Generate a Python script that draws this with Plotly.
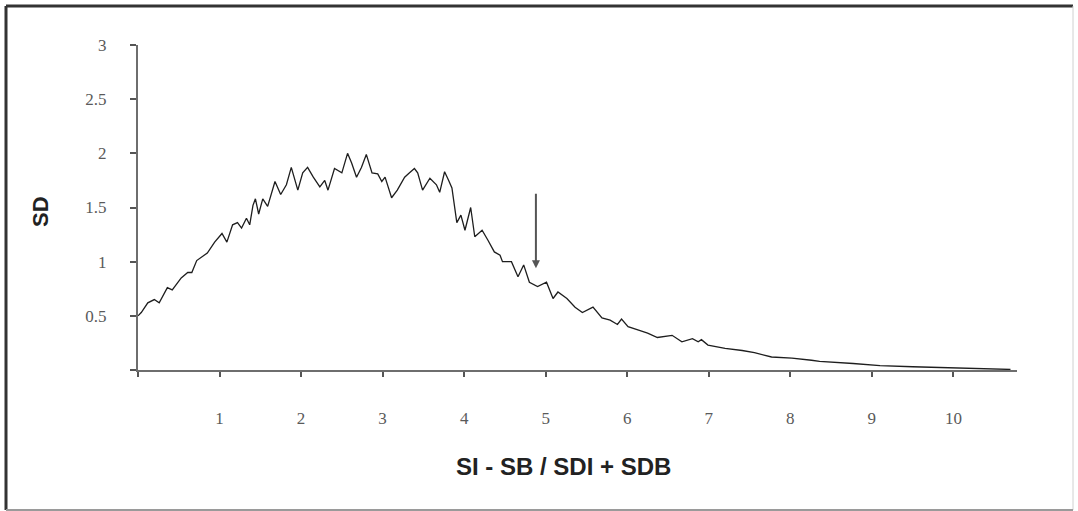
import plotly.graph_objects as go

# Data
sd_x = [0.00, 0.04, 0.12, 0.20, 0.26, 0.36, 0.42, 0.53, 0.61, 0.66, 0.72, 0.79, 0.85, 0.94,
        1.03, 1.09, 1.16, 1.22, 1.27, 1.33, 1.37, 1.41, 1.44, 1.48, 1.53, 1.59, 1.68, 1.75,
        1.82, 1.88, 1.96, 2.02, 2.08, 2.15, 2.23, 2.29, 2.33, 2.41, 2.50, 2.57, 2.62, 2.68,
        2.74, 2.80, 2.87, 2.94, 2.99, 3.03, 3.11, 3.18, 3.27, 3.33, 3.39, 3.43, 3.49, 3.58,
        3.66, 3.70, 3.76, 3.81, 3.85, 3.91, 3.96, 4.01, 4.08, 4.13, 4.22, 4.29, 4.37, 4.44,
        4.47, 4.52, 4.58, 4.66, 4.73, 4.80, 4.90, 5.01, 5.09, 5.15, 5.26, 5.36, 5.45, 5.58,
        5.69, 5.79, 5.88, 5.93, 6.01, 6.13, 6.25, 6.37, 6.55, 6.67, 6.80, 6.87, 6.91, 6.99,
        7.20, 7.41, 7.56, 7.77, 8.02, 8.26, 8.36, 8.77, 9.10, 9.50, 9.99, 10.30, 10.70]
sd_y = [0.50, 0.53, 0.62, 0.65, 0.62, 0.76, 0.74, 0.85, 0.90, 0.90, 1.01, 1.05, 1.08, 1.18,
        1.26, 1.18, 1.34, 1.36, 1.31, 1.40, 1.34, 1.52, 1.58, 1.44, 1.58, 1.51, 1.74, 1.62,
        1.71, 1.87, 1.66, 1.82, 1.87, 1.78, 1.69, 1.75, 1.66, 1.86, 1.82, 2.00, 1.91, 1.78,
        1.87, 1.99, 1.82, 1.81, 1.74, 1.78, 1.59, 1.66, 1.78, 1.82, 1.86, 1.82, 1.66, 1.77,
        1.71, 1.64, 1.83, 1.75, 1.68, 1.36, 1.43, 1.29, 1.50, 1.23, 1.29, 1.20, 1.09, 1.06,
        1.00, 1.00, 1.00, 0.86, 0.97, 0.81, 0.77, 0.81, 0.66, 0.72, 0.66, 0.58, 0.53, 0.58,
        0.48, 0.46, 0.42, 0.47, 0.40, 0.37, 0.34, 0.30, 0.32, 0.26, 0.29, 0.26, 0.28, 0.23,
        0.20, 0.18, 0.16, 0.12, 0.11, 0.09, 0.08, 0.06, 0.04, 0.03, 0.02, 0.01, 0.005]

x_ticks = [0, 1, 2, 3, 4, 5, 6, 7, 8, 9, 10]
x_tick_text = ["", "1", "2", "3", "4", "5", "6", "7", "8", "9", "10"]
y_ticks = [0, 0.5, 1, 1.5, 2, 2.5, 3]
y_tick_text = ["", "0.5", "1", "1.5", "2", "2.5", "3"]

arrow_x = 4.88
arrow_tail_y = 1.64
arrow_tip_y = 0.94

fig = go.Figure()
fig.add_trace(go.Scatter(x=sd_x, y=sd_y, mode="lines",
                         line=dict(color="#1e1e1e", width=1.3),
                         showlegend=False, hoverinfo="skip"))

tick_font = dict(family="Liberation Serif", size=17, color="#5a5a5a")
fig.update_layout(
    width=1078, height=511,
    margin=dict(l=138, r=61, t=45, b=141),
    paper_bgcolor="white", plot_bgcolor="white",
    xaxis=dict(range=[0, 10.78], tickmode="array", tickvals=x_ticks, ticktext=x_tick_text,
               showgrid=False, zeroline=False, showline=True, linecolor="#6e6e6e",
               linewidth=2, ticks="outside", ticklen=5, tickwidth=2, tickcolor="#555555",
               tickfont=tick_font, ticklabelstandoff=27),
    yaxis=dict(range=[0, 3], tickmode="array", tickvals=y_ticks, ticktext=y_tick_text,
               showgrid=False, zeroline=False, showline=True, linecolor="#6e6e6e",
               linewidth=2, ticks="outside", ticklen=6, tickwidth=2, tickcolor="#555555",
               tickfont=tick_font, ticklabelstandoff=20),
)

# Axis titles
fig.add_annotation(text="<b>SI - SB / SDI + SDB</b>", xref="paper", yref="paper",
                   x=(563 - 138) / 879, y=(370 - 466) / 325, showarrow=False,
                   font=dict(family="Liberation Sans", size=24, color="#222222"),
                   xanchor="center", yanchor="middle")
fig.add_annotation(text="<b>SD</b>", xref="paper", yref="paper",
                   x=(40 - 138) / 879, y=(370 - 212) / 325, showarrow=False, textangle=-90,
                   font=dict(family="Liberation Sans", size=22, color="#222222"),
                   xanchor="center", yanchor="middle")

# Arrow
fig.add_annotation(x=arrow_x, y=arrow_tip_y, ax=arrow_x, ay=arrow_tail_y,
                   xref="x", yref="y", axref="x", ayref="y", text="",
                   showarrow=True, arrowhead=2, arrowsize=0.8, arrowwidth=2,
                   arrowcolor="#555555")

# Frame around the picture
fig.add_shape(type="line", xref="paper", yref="paper",
              x0=(6 - 138) / 879, x1=(6 - 138) / 879, y0=(370 - 6) / 325, y1=(370 - 510) / 325,
              line=dict(color="#333333", width=3))
fig.add_shape(type="line", xref="paper", yref="paper",
              x0=(6 - 138) / 879, x1=(1073 - 138) / 879, y0=(370 - 6) / 325, y1=(370 - 6) / 325,
              line=dict(color="#333333", width=3))
fig.add_shape(type="line", xref="paper", yref="paper",
              x0=(1073 - 138) / 879, x1=(1073 - 138) / 879, y0=(370 - 6) / 325, y1=(370 - 510) / 325,
              line=dict(color="#d0d0d0", width=1))
fig.add_shape(type="line", xref="paper", yref="paper",
              x0=(6 - 138) / 879, x1=(1073 - 138) / 879, y0=(370 - 510) / 325, y1=(370 - 510) / 325,
              line=dict(color="#9a9a9a", width=2))

fig.write_html("out.html")
